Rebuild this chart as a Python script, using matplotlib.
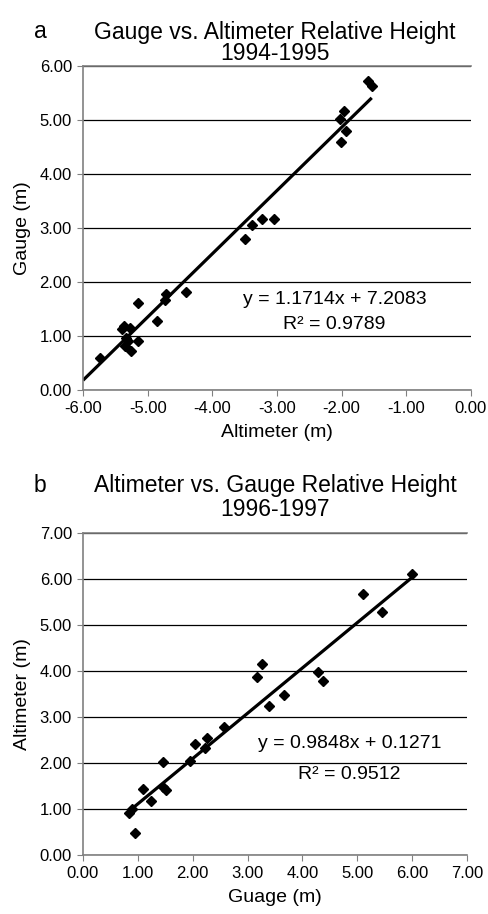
import numpy as np
import matplotlib
matplotlib.use('Agg')
import matplotlib.pyplot as plt
from matplotlib.ticker import FormatStrFormatter, MultipleLocator

plt.rcParams['font.family'] = ['Liberation Sans', 'DejaVu Sans']

# Panel a: 1994-1995, altimeter (x) vs gauge (y)
alt_a = [-5.74, -5.39, -5.37, -5.28, -5.33, -5.35, -5.31, -5.26, -5.155, -5.15,
         -4.86, -4.735, -4.71, -4.40, -3.50, -3.39, -3.225, -3.046,
         -2.02, -1.97, -2.006, -1.93, -1.60, -1.535]
gauge_a = [0.59, 1.13, 1.18, 1.15, 0.96, 0.81, 0.90, 0.72, 0.90, 1.62,
           1.27, 1.66, 1.78, 1.81, 2.80, 3.05, 3.17, 3.17,
           5.02, 5.17, 4.60, 4.80, 5.73, 5.63]
slope_a, icpt_a, r2_a = 1.1714, 7.2083, 0.9789

# Panel b: 1996-1997, gauge (x) vs altimeter (y)
gauge_b = [0.84, 0.90, 0.95, 1.09, 1.24, 1.45, 1.46, 1.51, 1.95, 2.04,
           2.22, 2.26, 2.57, 3.18, 3.27, 3.39, 3.67, 4.29, 4.37, 5.11, 5.45, 6.00]
alt_b = [0.92, 1.00, 0.48, 1.44, 1.17, 2.02, 1.48, 1.41, 2.05, 2.41,
         2.32, 2.54, 2.79, 3.86, 4.15, 3.23, 3.48, 3.98, 3.79, 5.67, 5.29, 6.10]
slope_b, icpt_b, r2_b = 0.9848, 0.1271, 0.9512

W, H = 489, 914
fig = plt.figure(figsize=(W / 100, H / 100), dpi=100)


def style(ax):
    ax.spines['right'].set_visible(False)
    for s in ['left', 'bottom', 'top']:
        ax.spines[s].set_color('#808080')
        ax.spines[s].set_linewidth(1.2)
    ax.yaxis.grid(True, color='black', linewidth=0.9)
    ax.set_axisbelow(True)
    ax.tick_params(direction='out', length=4, color='#808080', labelsize=12, pad=4)
    ax.xaxis.set_major_formatter(FormatStrFormatter('%.2f'))
    ax.yaxis.set_major_formatter(FormatStrFormatter('%.2f'))
    ax.xaxis.set_major_locator(MultipleLocator(1))
    ax.yaxis.set_major_locator(MultipleLocator(1))


# ---- panel a
ax1 = fig.add_axes([83 / W, 1 - 390 / H, (471 - 83) / W, (390 - 66) / H])
style(ax1)
xl = np.array([-6.0, max(alt_a)])
ax1.plot(xl, slope_a * xl + icpt_a, color='black', linewidth=2.3, solid_capstyle='butt')
ax1.plot(alt_a, gauge_a, 'D', color='black', markersize=5.5, linestyle='none')
ax1.set_xlim(-6, 0)
ax1.set_ylim(0, 6)
ax1.set_xlabel('Altimeter (m)', fontsize=14, labelpad=6)
ax1.set_ylabel('Gauge (m)', fontsize=14, labelpad=6)
ax1.text(-2.11, 1.67, f'y = {slope_a}x + {icpt_a}', fontsize=14, ha='center', va='center')
ax1.text(-2.11, 1.21, f'R² = {r2_a}', fontsize=14, ha='center', va='center')

fig.text(40 / W, 1 - 32 / H, 'a', fontsize=16.5, ha='center', va='center')
fig.text(275 / W, 1 - 32 / H, 'Gauge vs. Altimeter Relative Height', fontsize=16.5, ha='center', va='center')
fig.text(275 / W, 1 - 54 / H, '1994-1995', fontsize=16.5, ha='center', va='center')

# ---- panel b
ax2 = fig.add_axes([83 / W, 1 - 855 / H, (467 - 83) / W, (855 - 533) / H])
style(ax2)
xl = np.array([min(gauge_b), max(gauge_b)])
ax2.plot(xl, slope_b * xl + icpt_b, color='black', linewidth=2.3, solid_capstyle='butt')
ax2.plot(gauge_b, alt_b, 'D', color='black', markersize=5.5, linestyle='none')
ax2.set_xlim(0, 7)
ax2.set_ylim(0, 7)
ax2.set_xlabel('Guage (m)', fontsize=14, labelpad=6)
ax2.set_ylabel('Altimeter (m)', fontsize=14, labelpad=6)
ax2.text(4.86, 2.42, f'y = {slope_b}x + {icpt_b}', fontsize=14, ha='center', va='center')
ax2.text(4.86, 1.74, f'R² = {r2_b}', fontsize=14, ha='center', va='center')

fig.text(40 / W, 1 - 486 / H, 'b', fontsize=16.5, ha='center', va='center')
fig.text(275 / W, 1 - 486 / H, 'Altimeter vs. Gauge Relative Height', fontsize=16.5, ha='center', va='center')
fig.text(275 / W, 1 - 510 / H, '1996-1997', fontsize=16.5, ha='center', va='center')

fig.savefig('out.png', dpi=100)
